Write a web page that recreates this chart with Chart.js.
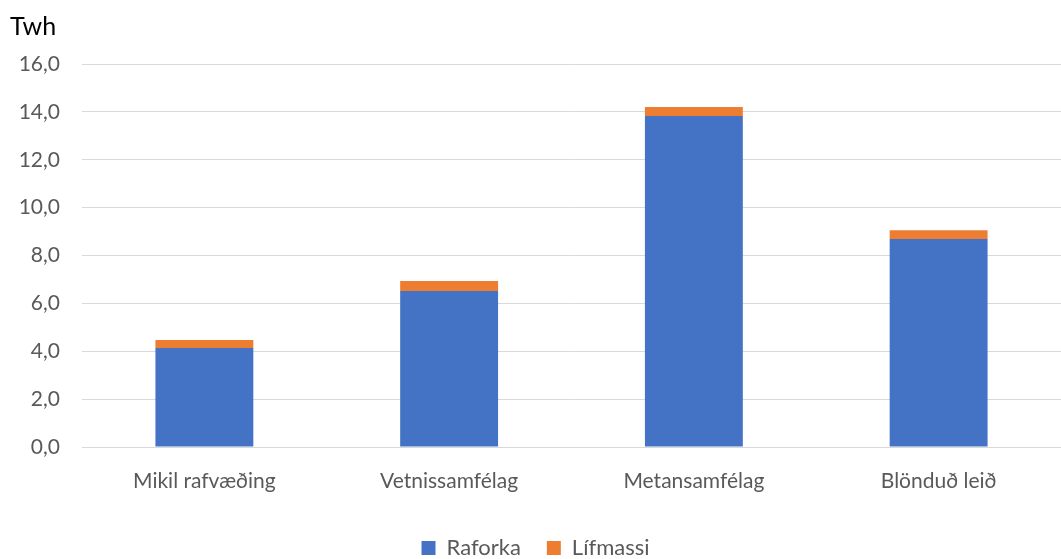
<!DOCTYPE html>
<html>
<head>
    <meta charset="utf-8">
    <title>Twh</title>
    <script src="https://cdn.jsdelivr.net/npm/chart.js"></script>
    <style>
        body { margin: 0; background: #ffffff; }
        #chart { display: block; }
    </style>
</head>
<body>
    <canvas id="chart" width="1061" height="559"></canvas>
    <script>
        // Data
        const categories = ['Mikil rafvæðing', 'Vetnissamfélag', 'Metansamfélag', 'Blönduð leið'];
        const raforka = [4.14, 6.52, 13.83, 8.69];
        const lifmassi = [0.33, 0.41, 0.37, 0.37];
        const yTicks = [0, 2, 4, 6, 8, 10, 12, 14, 16];

        const font = 'Lato, "Open Sans", sans-serif';

        new Chart(document.getElementById('chart').getContext('2d'), {
            type: 'bar',
            data: {
                labels: categories,
                datasets: [{
                    label: 'Raforka',
                    data: raforka,
                    backgroundColor: '#4472C4',
                    categoryPercentage: 1,
                    barPercentage: 0.4
                }, {
                    label: 'Lífmassi',
                    data: lifmassi,
                    backgroundColor: '#ED7D31',
                    categoryPercentage: 1,
                    barPercentage: 0.4
                }]
            },
            options: {
                responsive: false,
                animation: false,
                layout: { padding: { left: 10, right: 0, top: 6, bottom: 0 } },
                plugins: {
                    title: {
                        display: true,
                        text: 'Twh',
                        align: 'start',
                        color: '#000000',
                        font: { family: font, size: 25, weight: 'normal' },
                        padding: { top: 6, bottom: 22 }
                    },
                    legend: {
                        position: 'bottom',
                        maxHeight: 48,
                        labels: {
                            color: '#595959',
                            font: { family: font, size: 22, lineHeight: 1 },
                            boxWidth: 14,
                            boxHeight: 14,
                            padding: 26
                        }
                    },
                    tooltip: { enabled: false }
                },
                scales: {
                    x: {
                        stacked: true,
                        grid: { display: false },
                        border: { color: '#d9d9d9' },
                        afterFit: scale => { scale.height = 64; },
                        ticks: {
                            color: '#595959',
                            font: { family: font, size: 21 },
                            padding: 14
                        }
                    },
                    y: {
                        stacked: true,
                        min: 0,
                        max: 16,
                        afterFit: scale => { scale.width = 72; },
                        afterBuildTicks: scale => {
                            scale.ticks = yTicks.map(v => ({ value: v }));
                        },
                        border: { display: false },
                        grid: { color: '#d9d9d9', drawTicks: false },
                        ticks: {
                            color: '#595959',
                            font: { family: font, size: 21 },
                            padding: 22,
                            callback: v => v.toFixed(1).replace('.', ',')
                        }
                    }
                }
            }
        });
    </script>
</body>
</html>
